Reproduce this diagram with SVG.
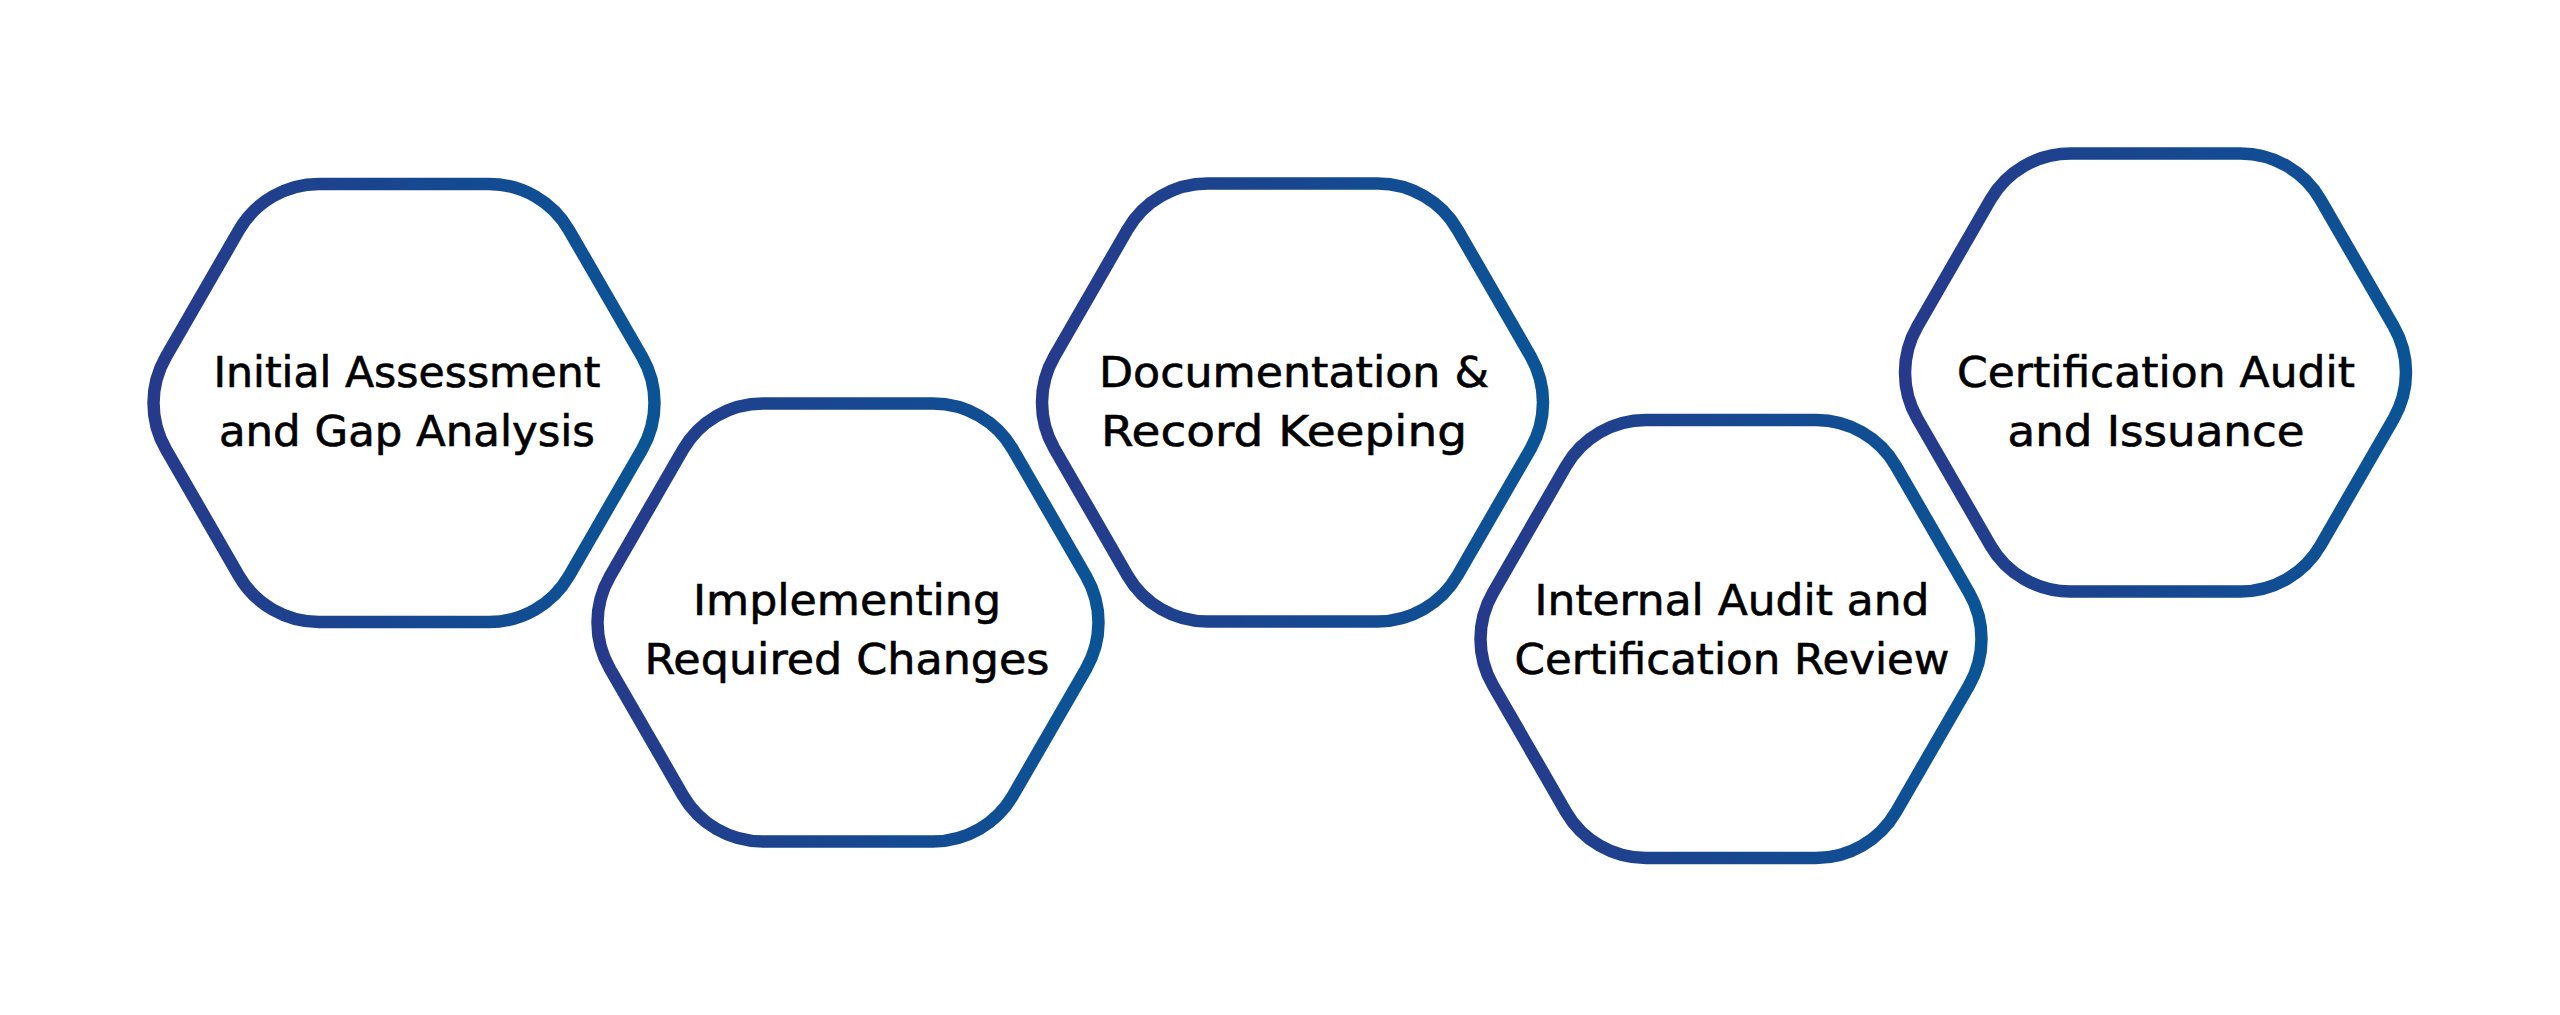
<svg xmlns="http://www.w3.org/2000/svg" width="2560" height="1015" viewBox="0 0 2560 1015">
  <defs>
    <linearGradient id="hexStroke" x1="0" y1="0" x2="1" y2="0">
      <stop offset="0" stop-color="#263a8b"/>
      <stop offset="1" stop-color="#0a5495"/>
    </linearGradient>
    <path id="hex" d="M -85 -219 L 85 -219 A 92.5 92.5 0 0 1 165.1 -172.75 L 238.1 -46.25 A 92.5 92.5 0 0 1 238.1 46.25 L 165.1 172.75 A 92.5 92.5 0 0 1 85 219 L -85 219 A 92.5 92.5 0 0 1 -165.1 172.75 L -238.1 46.25 A 92.5 92.5 0 0 1 -238.1 -46.25 L -165.1 -172.75 A 92.5 92.5 0 0 1 -85 -219 Z"/>
  </defs>
  <style>
    .hex { fill: #ffffff; stroke: url(#hexStroke); stroke-width: 12.5; }
    .label { font-family: "DejaVu Sans", "Liberation Sans", sans-serif; font-size: 42px; fill: #000000; stroke: #000000; stroke-width: 0.6; text-anchor: middle; }
  </style>
  <rect x="0" y="0" width="2560" height="1015" fill="#ffffff"/>
  <g id="connectors"></g>
  <g id="node1">
    <use href="#hex" class="hex" transform="translate(404 403)"/>
    <text class="label" x="407" y="387" textLength="387" lengthAdjust="spacingAndGlyphs">Initial Assessment</text>
    <text class="label" x="407" y="446" textLength="376" lengthAdjust="spacingAndGlyphs">and Gap Analysis</text>
  </g>
  <g id="node2">
    <use href="#hex" class="hex" transform="translate(848 622.5)"/>
    <text class="label" x="847" y="615" textLength="308" lengthAdjust="spacingAndGlyphs">Implementing</text>
    <text class="label" x="847" y="674" textLength="405" lengthAdjust="spacingAndGlyphs">Required Changes</text>
  </g>
  <g id="node3">
    <use href="#hex" class="hex" transform="translate(1292.5 402.5)"/>
    <text class="label" x="1294" y="387" textLength="390" lengthAdjust="spacingAndGlyphs">Documentation &amp;</text>
    <text class="label" x="1284" y="446" textLength="366" lengthAdjust="spacingAndGlyphs">Record Keeping</text>
  </g>
  <g id="node4">
    <use href="#hex" class="hex" transform="translate(1731 639)"/>
    <text class="label" x="1732" y="615" textLength="395" lengthAdjust="spacingAndGlyphs">Internal Audit and</text>
    <text class="label" x="1732" y="674" textLength="435" lengthAdjust="spacingAndGlyphs">Certification Review</text>
  </g>
  <g id="node5">
    <use href="#hex" class="hex" transform="translate(2155.5 372.5)"/>
    <text class="label" x="2156" y="387" textLength="398" lengthAdjust="spacingAndGlyphs">Certification Audit</text>
    <text class="label" x="2156" y="446" textLength="297" lengthAdjust="spacingAndGlyphs">and Issuance</text>
  </g>
</svg>
